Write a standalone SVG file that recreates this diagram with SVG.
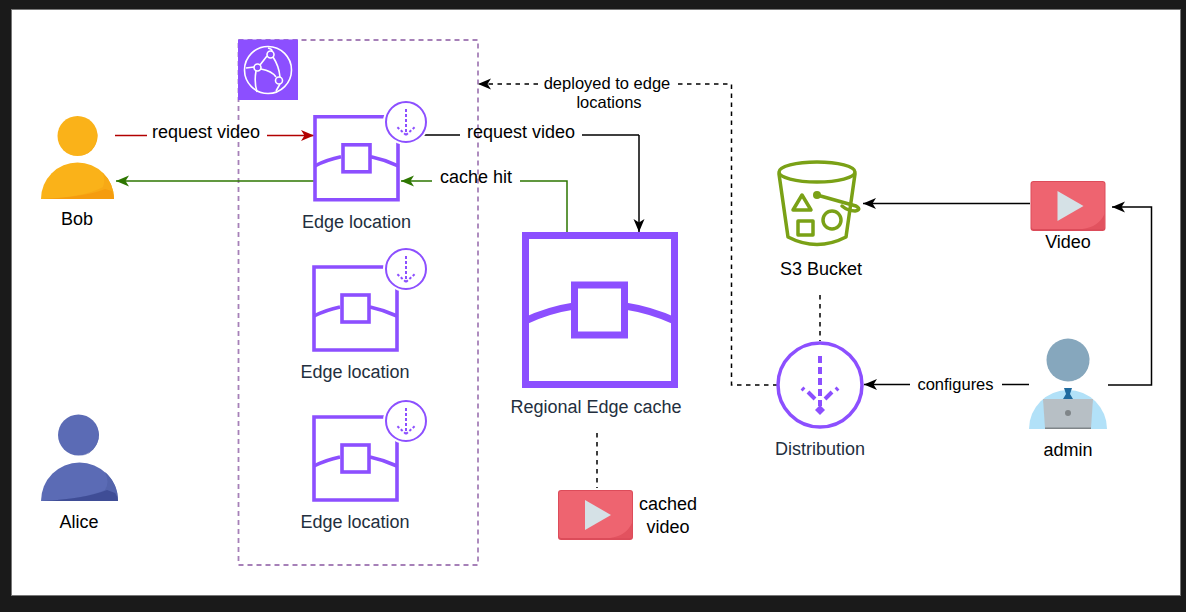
<svg xmlns="http://www.w3.org/2000/svg" width="1186" height="612" viewBox="0 0 1186 612">
<style>
text{font-family:"Liberation Sans",Arial,sans-serif;font-size:18px;fill:#000;text-anchor:middle}
.dk{fill:#232f3e}
.sm{font-size:16.5px}
.p{fill:none;stroke:#8c4fff;stroke-linecap:butt}
.c{fill:none;stroke:#000;stroke-width:1.5}
.d{stroke-dasharray:4.5 4.5}
</style>
<defs>
<marker id="ak" markerUnits="userSpaceOnUse" markerWidth="14" markerHeight="14" refX="13" refY="7" orient="auto"><path d="M0 1.500L13 7L0 12.500L3.500 7Z" fill="#000"/></marker>
<marker id="ar" markerUnits="userSpaceOnUse" markerWidth="14" markerHeight="14" refX="13" refY="7" orient="auto"><path d="M0 1.500L13 7L0 12.500L3.500 7Z" fill="#b20000"/></marker>
<marker id="ag" markerUnits="userSpaceOnUse" markerWidth="14" markerHeight="14" refX="13" refY="7" orient="auto"><path d="M0 1.500L13 7L0 12.500L3.500 7Z" fill="#2d7600"/></marker>
<g id="box">
<path class="p" stroke-width="3.600" d="M83 0H0V83H83V0"/>
<path class="p" stroke-width="3.600" d="M0 49Q12 43 26 40M56 40Q70 43 83 49"/>
<rect class="p" stroke-width="3.600" x="28" y="28" width="27" height="27"/>
</g>
<g id="badge">
<circle cx="0" cy="0" r="23" fill="#fff"/>
<circle cx="0" cy="0" r="20" fill="#fff" stroke="#8c4fff" stroke-width="2"/>
<path class="p" stroke-width="2" stroke-dasharray="3 2" d="M0 -13V13"/>
<path class="p" stroke-width="2" stroke-dasharray="2.500 2" d="M0 13L-9 5M0 13L9 5"/>
</g>
<g id="vid">
<rect width="75" height="50" rx="3" fill="#dc4c5a"/>
<rect x="1" y="1" width="73" height="47" rx="2" fill="#ee6470"/>
<path d="M74 33V47Q74 48 72 48H52Q68 46 74 33Z" fill="#e2525f"/>
<path d="M27 10V40L53 25Z" fill="#d5e1e6"/>
</g>
</defs>
<rect width="1186" height="612" fill="#1a1a1a"/>
<rect x="11" y="9" width="1170" height="587" fill="#777"/>
<rect x="12" y="10" width="1168" height="585" fill="#fff"/>
<rect x="238.500" y="40" width="239.500" height="525" fill="none" stroke="#a680b8" stroke-width="1.800" stroke-dasharray="5 4"/>
<g id="connectors">
<path class="c" style="stroke:#b20000" d="M115 135.500H147"/>
<path class="c" style="stroke:#b20000" marker-end="url(#ar)" d="M267 135.500H314"/>
<path class="c" style="stroke:#2d7600" marker-end="url(#ag)" d="M314 181H116"/>
<path class="c" style="stroke:#2d7600" marker-end="url(#ag)" d="M432 181H401"/>
<path class="c" style="stroke:#2d7600" d="M520 181H567V233"/>
<path class="c" d="M424 135H460M582 135H639"/>
<path class="c" marker-end="url(#ak)" d="M639 135V232"/>
<path class="c d" marker-end="url(#ak)" d="M538 84H478"/>
<path class="c d" d="M678 84H731.500V385H778"/>
<path class="c d" d="M820 295V341"/>
<path class="c d" d="M597 433V488"/>
<path class="c" marker-end="url(#ak)" d="M1030 203.500H863"/>
<path class="c" marker-end="url(#ak)" d="M910 384.500H864"/>
<path class="c" d="M1029 384.500H1002"/>
<path class="c" marker-end="url(#ak)" d="M1108 385H1151.500V207H1112"/>
</g>
<g id="bob">
<circle cx="77.500" cy="136" r="20" fill="#fab219"/>
<path d="M92 149A20 20 0 0 0 94 125A20 20 0 0 1 78 156A20 20 0 0 0 92 149Z" fill="#f5a511"/>
<path d="M41 199A36.500 36.500 0 0 1 114 199Z" fill="#fab219"/>
<path d="M42 199Q85 197 103 187Q106 178 102 172A36.500 36.500 0 0 1 114 199Z" fill="#f7a916"/>
<path d="M42 199Q85 197 105 189L112 191Q114 195 114 199Z" fill="#f59c0e"/>
<text x="77" y="225">Bob</text>
</g>
<g id="alice">
<circle cx="78.500" cy="435" r="20.500" fill="#5b6bb5"/>
<path d="M93 449A20.500 20.500 0 0 0 95 424A20.500 20.500 0 0 1 79 456A20.500 20.500 0 0 0 93 449Z" fill="#4f5ea5"/>
<path d="M41 501A38.500 38.500 0 0 1 118 501Z" fill="#5b6bb5"/>
<path d="M42 501Q85 499 105 490Q110 482 105 472A38.500 38.500 0 0 1 118 501Z" fill="#5363ab"/>
<path d="M42 501Q85 499 107 490L115 493Q118 497 118 501Z" fill="#3f4d96"/>
<text x="79" y="528">Alice</text>
</g>
<g id="cloudfront">
<rect x="238" y="39.500" width="60" height="60.500" fill="#8c4fff"/>
<g fill="none" stroke="#fff" stroke-width="1.600">
<circle cx="268" cy="70" r="23.500"/>
<path d="M246 68L254 67M256 71Q254 82 257 92M260 65L267 56M261 69Q272 71 276 77M273 57Q279 66 280 77M280 84L276 91M268 48Q272 49 272 51"/>
<circle cx="270.500" cy="54.500" r="3.500" fill="#8c4fff"/>
<circle cx="257.500" cy="67.500" r="3.500" fill="#8c4fff"/>
<circle cx="279" cy="80.500" r="3.500" fill="#8c4fff"/>
</g>
</g>
<g id="edge1"><use href="#box" x="315" y="116.800"/><use href="#badge" x="406" y="122"/><text class="dk" x="356.500" y="228">Edge location</text></g>
<g id="edge2"><use href="#box" x="314" y="267"/><use href="#badge" x="406" y="269"/><text class="dk" x="355" y="378">Edge location</text></g>
<g id="edge3"><use href="#box" x="314" y="417"/><use href="#badge" x="406" y="421"/><text class="dk" x="355" y="528">Edge location</text></g>
<g id="regional">
<path class="p" stroke-width="7" d="M525.500 235.500H674.500V384.500H525.500Z"/>
<rect class="p" stroke-width="7" x="574.500" y="285" width="50" height="50"/>
<path class="p" stroke-width="7" d="M525 321Q548 310 574 306M625 306Q651 310 675 321"/>
<text class="dk" x="596" y="413">Regional Edge cache</text>
</g>
<g id="cached"><use href="#vid" x="558" y="490"/><text x="668" y="510">cached</text><text x="668" y="533">video</text></g>
<g id="s3">
<g fill="none" stroke="#7aa116" stroke-width="3.500" stroke-linejoin="round" stroke-linecap="round">
<ellipse cx="817" cy="172" rx="38" ry="10"/>
<path d="M779 174L788 237Q817 252 846 237L855 174"/>
<path d="M802 195L811 210H793Z"/>
<rect x="798" y="221" width="15" height="14"/>
<circle cx="832" cy="220" r="9"/>
<path d="M817 195L856 206Q862 210 855 211Q848 211 842 206"/>
</g>
<circle cx="817" cy="195" r="4" fill="#7aa116"/>
<text x="821" y="275">S3 Bucket</text>
</g>
<g id="distribution">
<circle cx="820" cy="385" r="42" fill="#fff" stroke="#8c4fff" stroke-width="3.500"/>
<path class="p" stroke-width="4" stroke-dasharray="7 4" d="M820 356V406"/>
<path class="p" stroke-width="4" d="M815 399L808 392M804 390L802 388M825 399L832 392M836 390L838 388"/>
<path d="M820 405L825 410L820 415L815 410Z" fill="#8c4fff"/>
<text class="dk" x="820" y="455">Distribution</text>
</g>
<g id="video"><use href="#vid" x="1030.500" y="181"/><text x="1068" y="248">Video</text></g>
<g id="admin">
<circle cx="1068" cy="360" r="21.500" fill="#86a7bd"/>
<path d="M1083 375A21.500 21.500 0 0 0 1085 347A21.500 21.500 0 0 1 1068 381.500A21.500 21.500 0 0 0 1083 375Z" fill="#7794a8"/>
<path d="M1029 429A39 39 0 0 1 1107 429Z" fill="#b2e1f8"/>
<path d="M1064 388H1072L1070 394L1073 399H1063L1066 394Z" fill="#1f6a9e"/>
<path d="M1043 399H1093L1091 428H1045Z" fill="#b7bfc5"/>
<rect x="1045" y="427.500" width="46" height="1.500" fill="#7f8589"/>
<circle cx="1068" cy="413" r="3" fill="#7f8589"/>
<text x="1068" y="456">admin</text>
</g>
<g id="labels">
<text x="206" y="138">request video</text>
<text x="521" y="138">request video</text>
<text x="476" y="183">cache hit</text>
<text class="sm" x="955.500" y="390">configures</text>
<text class="sm" x="607" y="89">deployed to edge</text>
<text class="sm" x="609" y="108">locations</text>
</g>
</svg>
